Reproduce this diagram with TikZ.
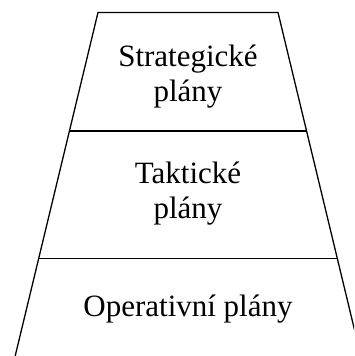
\documentclass[tikz,border=0pt]{standalone}
\usepackage{fontspec}
\setmainfont{Liberation Serif}
\tikzset{
  edge/.style={draw=black, line width=1.3pt},
  label/.style={anchor=base, inner sep=0pt, font=\fontsize{31}{35}\selectfont}
}
\begin{document}
\begin{tikzpicture}[x=1pt, y=-1pt]
\useasboundingbox (0,0) rectangle (354,356);
\clip (0,0) rectangle (354,356);
% corners of the pyramid frustum and the dividing lines
\coordinate (tl) at (98,12.5);
\coordinate (tr) at (278,12.5);
\coordinate (bl) at (11.8,370);
\coordinate (br) at (364.2,370);
\coordinate (al) at (69.4,131);
\coordinate (ar) at (306.6,131);
\coordinate (cl) at (38.8,258.3);
\coordinate (cr) at (337.2,258.3);
\draw[edge, line join=miter] (bl) -- (tl) -- (tr) -- (br);
\draw[edge] (al) -- (ar);
\draw[edge] (cl) -- (cr);
% level labels
\node[label] (s1) at (188,66.7) {Strategické};
\node[label] (s2) at (188,101.7) {plány};
\node[label] (t1) at (188,183) {Taktické};
\node[label] (t2) at (188,218) {plány};
\node[label] (o1) at (188,316.7) {Operativní plány};
\end{tikzpicture}
\end{document}
